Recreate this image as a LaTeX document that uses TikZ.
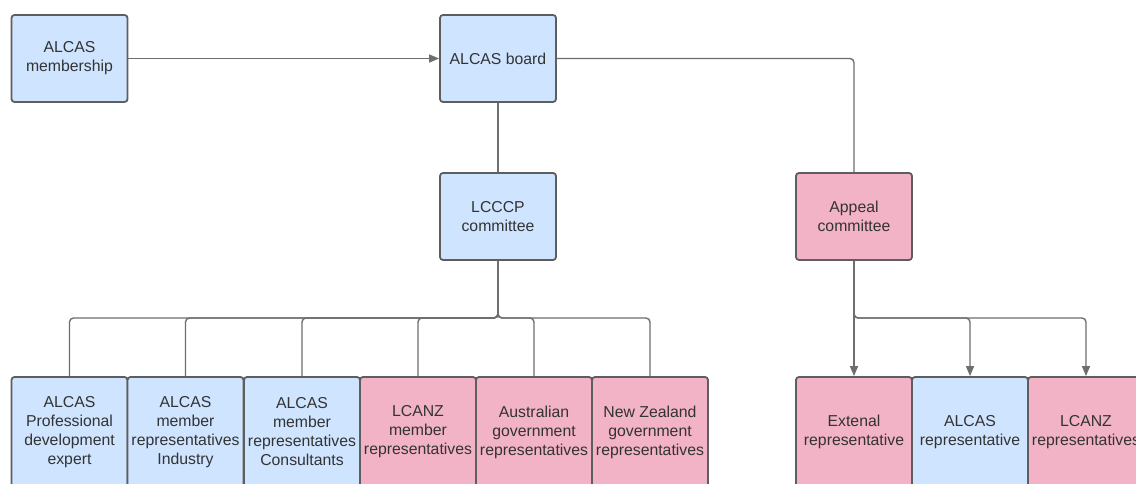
\documentclass[tikz,border=0pt]{standalone}
\usepackage{fontspec}
\setmainfont{Liberation Sans}
\usetikzlibrary{arrows.meta}
\definecolor{boxblue}{HTML}{CFE4FF}
\definecolor{boxpink}{HTML}{F2B3C6}
\definecolor{boxline}{HTML}{5E5E5E}
\definecolor{connline}{HTML}{6E6E6E}
\definecolor{txt}{HTML}{333333}
\tikzset{
  box/.style={rectangle, rounded corners=3pt, draw=boxline, line width=1.8pt,
    minimum width=116pt, minimum height=87pt, align=center, inner sep=1pt,
    text=txt, font=\fontsize{15.8}{19}\selectfont},
  topbox/.style={box},
  lowbox/.style={box, minimum height=110pt},
  blue/.style={fill=boxblue},
  pink/.style={fill=boxpink},
  conn/.style={draw=connline, line width=1.4pt, rounded corners=4pt},
  arr/.style={conn, -{Triangle[length=10pt,width=8pt]}}
}
\begin{document}
\begin{tikzpicture}[x=1pt,y=-1pt]
\clip (0,0) rectangle (1136,484);
\fill[white] (0,0) rectangle (1136,484);
% top row
\node[topbox,blue] (mem) at (69.5,58.5) {ALCAS\\membership};
\node[topbox,blue] (board) at (498,58.5) {ALCAS board};
% middle row
\node[box,blue] (lcccp) at (498,216.5) {LCCCP\\committee};
\node[box,pink] (appeal) at (854,216.5) {Appeal\\committee};
% bottom row left
\node[lowbox,blue] (b1) at (69.5,432) {ALCAS\\Professional\\development\\expert};
\node[lowbox,blue] (b2) at (185.5,432) {ALCAS\\member\\representatives\\Industry};
\node[lowbox,blue] (b3) at (302,432) {ALCAS\\member\\representatives\\Consultants};
\node[lowbox,pink] (b4) at (418,432) {LCANZ\\member\\representatives};
\node[lowbox,pink] (b5) at (534,432) {Australian\\government\\representatives};
\node[lowbox,pink] (b6) at (650,432) {New Zealand\\government\\representatives};
% bottom row right
\node[lowbox,pink] (r1) at (854,432) {Extenal\\representative};
\node[lowbox,blue] (r2) at (970,432) {ALCAS\\representative};
\node[lowbox,pink] (r3) at (1086,432) {LCANZ\\representatives};
% connectors
\draw[arr] (mem.east) -- (board.west);
\draw[conn] (board.east) -| (appeal.north);
\draw[conn] (board.south) -- (lcccp.north);
\coordinate (jl) at (498,318);
\coordinate (jr) at (854,318);
\foreach \b in {b1,b2,b3,b4,b5,b6}{
  \draw[conn] (lcccp.south) -- (lcccp.south |- jl) -| (\b.north);
}
\foreach \b in {r1,r2,r3}{
  \draw[arr] (appeal.south) -- (appeal.south |- jr) -| (\b.north);
}
\end{tikzpicture}
\end{document}
